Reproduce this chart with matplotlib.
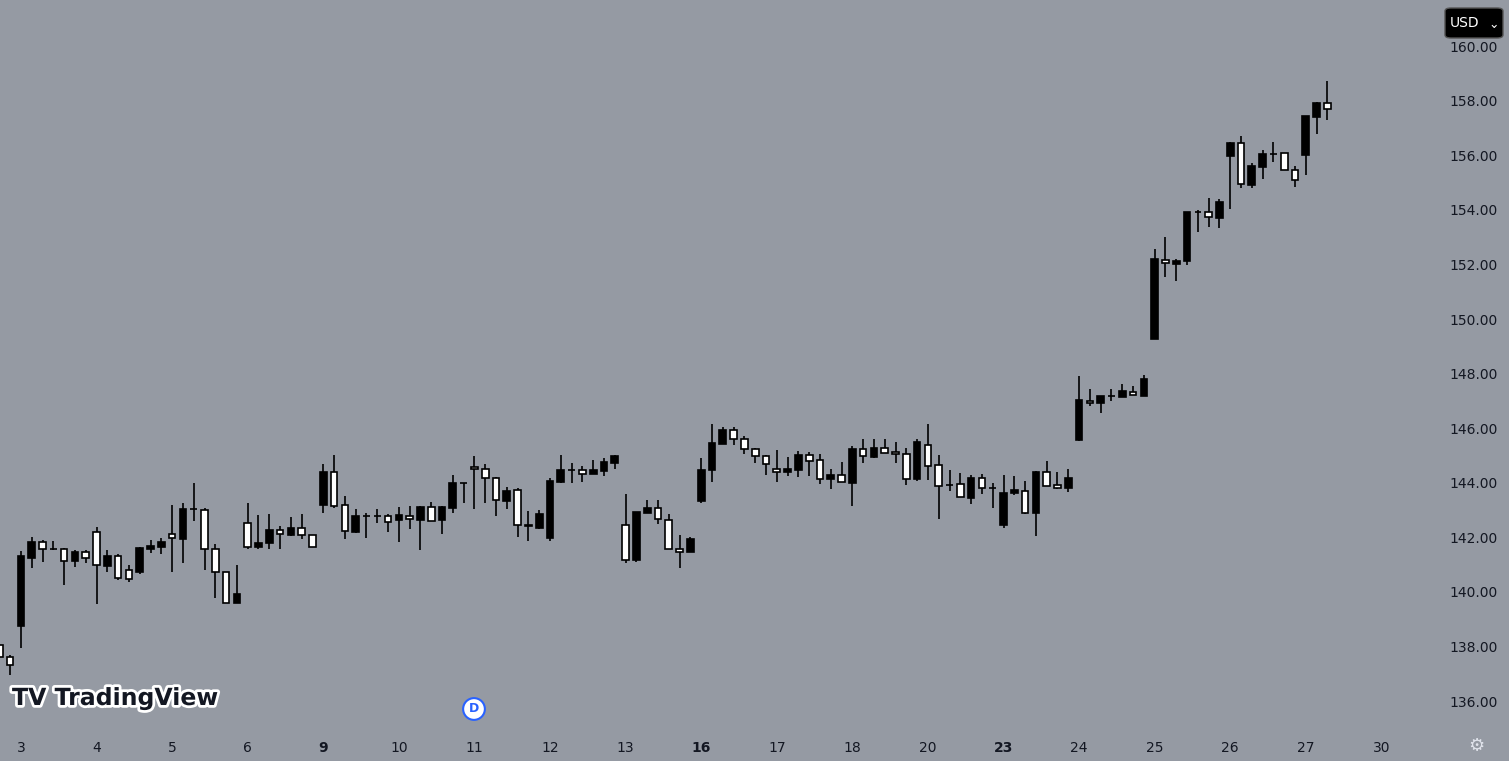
import numpy as np
import matplotlib.pyplot as plt
import matplotlib.patheffects as pe
from matplotlib.patches import FancyBboxPatch

# candle data (index 0 = first bar of day 3)
opens = [138.04, 137.60, 138.76, 141.25, 141.83, 141.56, 141.59, 141.14, 141.46, 142.19,
         140.96, 141.30, 140.80, 140.74, 141.58, 141.66, 142.14, 141.95, 143.02, 142.99,
         141.56, 140.72, 139.58, 142.51, 141.63, 141.78, 142.26, 142.08, 142.36, 142.07,
         143.19, 144.38, 143.17, 142.19, 142.78, 142.78, 142.78, 142.64, 142.77, 142.64,
         143.10, 142.64, 143.08, 143.98, 144.58, 144.49, 144.16, 143.34, 143.72, 142.47,
         142.35, 141.98, 144.04, 144.46, 144.46, 144.31, 144.44, 144.73, 142.47, 141.18,
         142.90, 143.06, 142.63, 141.59, 141.47, 143.34, 144.47, 145.43, 145.95, 145.62,
         145.22, 144.97, 144.49, 144.38, 144.46, 145.00, 144.82, 144.15, 144.27, 144.00,
         145.22, 144.95, 145.26, 145.11, 145.04, 144.13, 145.40, 144.64, 143.91, 143.94,
         143.45, 144.16, 143.79, 142.47, 143.61, 143.68, 142.90, 144.38, 143.90, 143.81,
         145.57, 147.00, 146.91, 147.17, 147.15, 147.33, 147.19, 149.27, 152.18, 152.02,
         152.13, 153.91, 153.91, 153.71, 155.98, 156.45, 154.92, 155.58, 156.04, 156.07,
         155.45, 156.02, 157.41, 157.90]
closes = [137.60, 137.34, 141.31, 141.83, 141.56, 141.58, 141.15, 141.46, 141.23, 140.97,
          141.31, 140.50, 140.48, 141.60, 141.68, 141.83, 141.96, 143.02, 143.03, 141.56,
          140.72, 139.58, 139.94, 141.63, 141.78, 142.26, 142.11, 142.36, 142.07, 141.66,
          144.39, 143.16, 142.22, 142.78, 142.78, 142.79, 142.57, 142.81, 142.68, 143.11,
          142.61, 143.11, 143.98, 143.99, 144.49, 144.16, 143.35, 143.69, 142.47, 142.40,
          142.84, 144.05, 144.46, 144.46, 144.31, 144.46, 144.76, 144.98, 141.18, 142.92,
          143.07, 142.66, 141.59, 141.48, 141.93, 144.47, 145.45, 145.95, 145.59, 145.22,
          144.97, 144.67, 144.38, 144.49, 145.01, 144.80, 144.15, 144.27, 144.01, 145.22,
          144.97, 145.26, 145.10, 145.04, 144.15, 145.48, 144.60, 143.89, 143.92, 143.46,
          144.16, 143.79, 143.80, 143.61, 143.73, 142.91, 144.39, 143.89, 143.81, 144.17,
          147.03, 146.91, 147.17, 147.18, 147.36, 147.20, 147.82, 152.19, 152.04, 152.12,
          153.92, 153.93, 153.72, 154.28, 156.45, 154.93, 155.60, 156.04, 156.06, 155.45,
          155.08, 157.43, 157.90, 157.68]
highs = [138.05, 137.68, 141.50, 142.01, 141.92, 141.87, 141.60, 141.53, 141.53, 142.39,
         141.53, 141.40, 140.98, 141.65, 141.90, 141.96, 143.18, 143.24, 143.98, 143.06,
         141.75, 140.72, 140.98, 143.27, 142.81, 142.87, 142.41, 142.73, 142.85, 142.10,
         144.68, 145.01, 143.51, 143.03, 142.90, 143.03, 142.85, 143.11, 143.14, 143.14,
         143.29, 143.14, 144.28, 143.98, 144.98, 144.68, 144.22, 143.83, 143.79, 142.96,
         143.00, 144.16, 145.01, 144.71, 144.61, 144.83, 144.90, 145.01, 143.58, 142.92,
         143.36, 143.36, 142.85, 142.08, 142.00, 144.90, 146.17, 146.05, 146.05, 145.71,
         145.28, 145.01, 145.19, 144.93, 145.16, 145.12, 145.05, 144.50, 144.76, 145.34,
         145.60, 145.60, 145.60, 145.49, 145.26, 145.62, 146.17, 145.00, 144.45, 144.35,
         144.27, 144.31, 143.98, 144.27, 144.24, 144.06, 144.43, 144.79, 144.39, 144.50,
         147.91, 147.43, 147.17, 147.43, 147.61, 147.54, 147.94, 152.56, 153.00, 152.19,
         153.92, 153.99, 154.44, 154.41, 156.49, 156.70, 155.70, 156.19, 156.48, 156.07,
         155.60, 157.43, 157.96, 158.72]
lows = [137.50, 136.95, 137.95, 140.88, 141.10, 141.53, 140.25, 140.92, 141.07, 139.55,
        140.74, 140.45, 140.37, 140.65, 141.43, 141.39, 140.74, 141.07, 142.61, 140.82,
        139.78, 139.58, 139.58, 141.56, 141.59, 141.59, 141.56, 142.04, 141.95, 141.66,
        142.90, 143.08, 141.94, 142.17, 141.98, 142.53, 142.20, 141.84, 142.30, 141.53,
        142.61, 142.12, 142.90, 143.27, 143.05, 143.27, 142.78, 143.05, 142.02, 141.87,
        142.31, 141.87, 144.00, 144.00, 144.04, 144.31, 144.25, 144.51, 141.07, 141.09,
        142.90, 142.48, 141.59, 140.88, 141.47, 143.27, 144.04, 145.43, 145.38, 145.05,
        144.73, 144.28, 144.04, 144.25, 144.22, 144.25, 143.95, 143.77, 144.01, 143.14,
        144.73, 144.91, 145.10, 144.73, 143.93, 144.07, 144.10, 142.66, 143.71, 143.46,
        143.23, 143.60, 143.08, 142.36, 143.54, 142.85, 142.06, 143.89, 143.78, 143.67,
        145.52, 146.82, 146.56, 147.00, 147.15, 147.20, 147.19, 149.27, 151.55, 151.40,
        151.98, 153.20, 153.38, 153.34, 154.04, 154.81, 154.81, 155.14, 155.76, 155.45,
        154.84, 155.28, 156.79, 157.29]
first_index = -2

day_labels = ["3", "4", "5", "6", "9", "10", "11", "12", "13", "16", "17", "18", "20",
              "23", "24", "25", "26", "27", "30"]
bold_days = {"9", "16", "23"}
bars_per_day = 7
price_ticks = np.arange(136, 161, 2)

bg = "#959aa3"
fig = plt.figure(figsize=(15.09, 7.61), dpi=100, facecolor=bg)
ax = fig.add_axes([0, 31 / 761, 1430 / 1509, 730 / 761])
ax.set_facecolor(bg)

x = np.arange(len(opens)) + first_index
o = np.array(opens)
c = np.array(closes)
up = c >= o
ax.vlines(x, lows, highs, color="black", linewidth=1.2, zorder=1)
ax.bar(x, np.maximum(np.abs(c - o), 0.02), bottom=np.minimum(o, c), width=0.62,
       color=np.where(up, "black", "white"), edgecolor="black", linewidth=1.2, zorder=2)

ax.set_xlim(-1.94, 130.5)
ax.set_ylim(134.94, 161.69)
for s in ax.spines.values():
    s.set_visible(False)

ax.yaxis.tick_right()
ax.set_yticks(price_ticks)
ax.set_yticklabels([f"{p:.2f}" for p in price_ticks], fontsize=10, color="#131722")
ax.tick_params(axis="y", length=0, pad=14)

ax.set_xticks(np.arange(len(day_labels)) * bars_per_day)
ax.set_xticklabels(day_labels, fontsize=10, color="#131722")
for t in ax.get_xticklabels():
    if t.get_text() in bold_days:
        t.set_fontweight("bold")
ax.tick_params(axis="x", length=0, pad=8)

# overlays: logo, interval badge, currency button, settings icon
fig.text(12 / 1509, 1 - 698 / 761, "𝗧𝗩 TradingView", fontsize=17, fontweight="bold",
         va="center", color="#131722",
         path_effects=[pe.withStroke(linewidth=4, foreground="white")])
fig.text(474 / 1509, 1 - 709 / 761, "D", fontsize=9, fontweight="bold", color="#2962ff",
         ha="center", va="center",
         bbox=dict(boxstyle="circle,pad=0.35", facecolor="white", edgecolor="#2962ff",
                   linewidth=1.5))
fig.patches.append(FancyBboxPatch((1445 / 1509, 1 - 38 / 761), 58 / 1509, 30 / 761,
                                  boxstyle="round,pad=0,rounding_size=0.004",
                                  transform=fig.transFigure, facecolor="black",
                                  edgecolor="#555", zorder=5))
fig.text(1450 / 1509, 1 - 23 / 761, "USD", fontsize=10, color="white", ha="left",
         va="center", zorder=6)
fig.text(1494 / 1509, 1 - 25 / 761, "⌄", fontsize=9, color="white", ha="center",
         va="center", zorder=6)
fig.text(1476 / 1509, 1 - 746 / 761, "⚙", fontsize=13, color="#e0e3eb", ha="center",
         va="center")

fig.savefig("out.png", dpi=100, facecolor=bg)
